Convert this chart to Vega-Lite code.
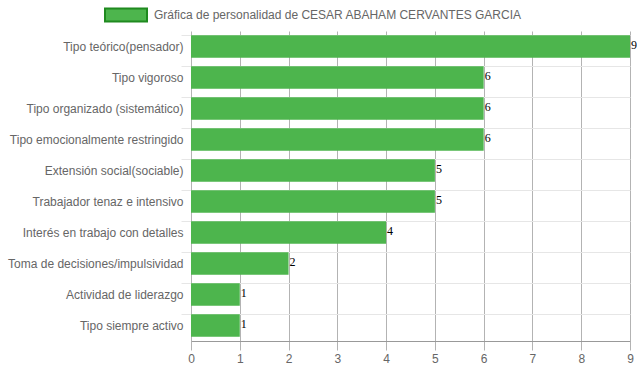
{
  "$schema": "https://vega.github.io/schema/vega-lite/v6.json",
  "autosize": "none",
  "width": 439,
  "height": 310,
  "padding": {"left": 191, "top": 31, "right": 7, "bottom": 30},
  "background": "white",
  "config": {
    "view": {"stroke": null},
    "font": "Liberation Sans"
  },
  "data": {
    "values": [
      {"rasgo": "Tipo teórico(pensador)", "valor": 9, "serie": "Gráfica de personalidad de CESAR ABAHAM CERVANTES GARCIA"},
      {"rasgo": "Tipo vigoroso", "valor": 6, "serie": "Gráfica de personalidad de CESAR ABAHAM CERVANTES GARCIA"},
      {"rasgo": "Tipo organizado (sistemático)", "valor": 6, "serie": "Gráfica de personalidad de CESAR ABAHAM CERVANTES GARCIA"},
      {"rasgo": "Tipo emocionalmente restringido", "valor": 6, "serie": "Gráfica de personalidad de CESAR ABAHAM CERVANTES GARCIA"},
      {"rasgo": "Extensión social(sociable)", "valor": 5, "serie": "Gráfica de personalidad de CESAR ABAHAM CERVANTES GARCIA"},
      {"rasgo": "Trabajador tenaz e intensivo", "valor": 5, "serie": "Gráfica de personalidad de CESAR ABAHAM CERVANTES GARCIA"},
      {"rasgo": "Interés en trabajo con detalles", "valor": 4, "serie": "Gráfica de personalidad de CESAR ABAHAM CERVANTES GARCIA"},
      {"rasgo": "Toma de decisiones/impulsividad", "valor": 2, "serie": "Gráfica de personalidad de CESAR ABAHAM CERVANTES GARCIA"},
      {"rasgo": "Actividad de liderazgo", "valor": 1, "serie": "Gráfica de personalidad de CESAR ABAHAM CERVANTES GARCIA"},
      {"rasgo": "Tipo siempre activo", "valor": 1, "serie": "Gráfica de personalidad de CESAR ABAHAM CERVANTES GARCIA"}
    ]
  },
  "encoding": {
    "y": {
      "field": "rasgo",
      "type": "nominal",
      "sort": null,
      "scale": {"paddingInner": 0.28, "paddingOuter": 0.14},
      "axis": {
        "title": null,
        "bandPosition": 0,
        "grid": true,
        "gridColor": "#e6e6e6",
        "domain": false,
        "tickColor": "#e6e6e6",
        "tickSize": 10,
        "labelFontSize": 12,
        "labelColor": "#666666",
        "labelPadding": -2,
        "labelFont": "Liberation Sans"
      }
    },
    "x": {
      "field": "valor",
      "type": "quantitative",
      "scale": {"domain": [0, 9], "nice": false},
      "axis": {
        "title": null,
        "values": [0, 1, 2, 3, 4, 5, 6, 7, 8, 9],
        "labelOverlap": false,
        "labelFlush": false,
        "grid": true,
        "gridColor": "#b3b3b3",
        "domainColor": "#999999",
        "tickColor": "#b3b3b3",
        "tickSize": 9,
        "labelFontSize": 12,
        "labelColor": "#666666",
        "labelPadding": 3,
        "labelFont": "Liberation Sans"
      }
    }
  },
  "layer": [
    {
      "mark": {"type": "bar"},
      "encoding": {
        "color": {
          "field": "serie",
          "type": "nominal",
          "scale": {"range": ["#4db54d"]},
          "legend": {
            "title": null,
            "orient": "none",
            "legendX": -87,
            "legendY": -38,
            "symbolType": "M-1,-0.31H1V0.31H-1Z",
            "symbolSize": 1764,
            "symbolStrokeColor": "#1f8a1f",
            "symbolStrokeWidth": 2,
            "symbolFillColor": "#4db54d",
            "symbolOpacity": 1,
            "labelFontSize": 12,
            "labelColor": "#666666",
            "labelFont": "Liberation Sans",
            "labelOffset": 6,
            "labelLimit": 500
          }
        }
      }
    },
    {
      "mark": {"type": "text", "align": "left", "baseline": "middle", "dx": 1, "dy": -2, "font": "Liberation Serif", "fontSize": 12, "fill": "#000000"},
      "encoding": {"text": {"field": "valor", "type": "quantitative"}}
    }
  ]
}
